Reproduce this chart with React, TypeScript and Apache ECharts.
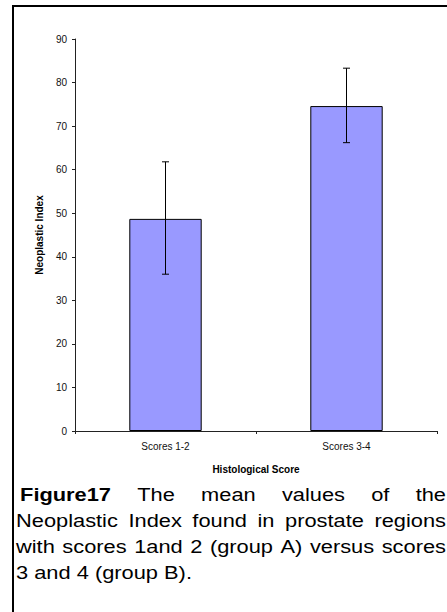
import React, { useEffect, useRef } from "react";
import * as echarts from "echarts";

const categories = ["Scores 1-2", "Scores 3-4"];
const meanValues = [48.7, 74.6];
const errorLow = [36.0, 66.2];
const errorHigh = [61.8, 83.3];
const yTicks = { min: 0, max: 90, interval: 10 };

const captionLines: { words: { t: string; bold?: boolean }[]; justify: boolean }[] = [
  { words: [{ t: "Figure17", bold: true }, { t: "The" }, { t: "mean" }, { t: "values" }, { t: "of" }, { t: "the" }], justify: true },
  { words: [{ t: "Neoplastic" }, { t: "Index" }, { t: "found" }, { t: "in" }, { t: "prostate" }, { t: "regions" }], justify: true },
  { words: [{ t: "with" }, { t: "scores" }, { t: "1and" }, { t: "2" }, { t: "(group" }, { t: "A)" }, { t: "versus" }, { t: "scores" }], justify: true },
  { words: [{ t: "3" }, { t: "and" }, { t: "4" }, { t: "(group" }, { t: "B)." }], justify: false },
];

const FONT_FAMILY = '"Liberation Sans", Arial, Helvetica, sans-serif';

export default function App() {
  const ref = useRef<HTMLDivElement>(null);
  useEffect(() => {
    document.body.style.margin = "0";
    if (!ref.current) return;
    const chart = echarts.init(ref.current, undefined, { renderer: "svg" });

    const capSize = 18.5;
    const scaleX = 1.18;
    const canvas = document.createElement("canvas");
    const ctx = canvas.getContext("2d")!;
    const measure = (t: string, bold?: boolean) => {
      ctx.font = `${bold ? "bold " : ""}${capSize}px ${FONT_FAMILY}`;
      return ctx.measureText(t).width * scaleX;
    };
    const L0 = 14;
    const R0 = 446;
    const lineY = [495, 521, 547, 573];
    const spaceW = measure(" ");
    const graphics: any[] = [
      { type: "rect", shape: { x: 13, y: 5, width: 440, height: 2 }, style: { fill: "#000" } },
      { type: "rect", shape: { x: 12, y: 5, width: 2, height: 620 }, style: { fill: "#000" } },
    ];
    captionLines.forEach((line, li) => {
      const startX = li === 0 ? L0 + spaceW : L0 + 2;
      const widths = line.words.map((w) => measure(w.t, w.bold));
      const total = widths.reduce((a, b) => a + b, 0);
      const gap = line.justify ? (R0 - startX - total) / (line.words.length - 1) : spaceW;
      let x = startX;
      line.words.forEach((w, wi) => {
        graphics.push({
          type: "text",
          x,
          y: lineY[li],
          scaleX,
          style: {
            text: w.t,
            fontSize: capSize,
            fontWeight: w.bold ? "bold" : "normal",
            fontFamily: FONT_FAMILY,
            fill: "#000",
            textAlign: "left",
            textVerticalAlign: "middle",
          },
        });
        x += widths[wi] + gap;
      });
    });

    chart.setOption({
      animation: false,
      grid: { left: 75, right: 10, top: 39, bottom: 181 },
      xAxis: {
        type: "category",
        data: categories,
        name: "Histological Score",
        nameLocation: "middle",
        nameGap: 33,
        nameTextStyle: { fontSize: 10, fontWeight: "bold", color: "#000", fontFamily: FONT_FAMILY },
        axisLine: { lineStyle: { color: "#222", width: 1 } },
        axisTick: { show: true, length: 3, lineStyle: { color: "#222" } },
        axisLabel: { fontSize: 10, color: "#111", margin: 10, fontFamily: FONT_FAMILY },
        splitLine: { show: false },
      },
      yAxis: {
        type: "value",
        min: yTicks.min,
        max: yTicks.max,
        interval: yTicks.interval,
        name: "Neoplastic Index",
        nameLocation: "middle",
        nameGap: 30,
        nameTextStyle: { fontSize: 10, fontWeight: "bold", color: "#000", fontFamily: FONT_FAMILY },
        axisLine: { show: true, lineStyle: { color: "#222", width: 1 } },
        axisTick: { show: true, length: 3, lineStyle: { color: "#222" } },
        axisLabel: { fontSize: 10, color: "#111", margin: 8, fontFamily: FONT_FAMILY },
        splitLine: { show: false },
      },
      series: [
        {
          type: "bar",
          data: meanValues,
          barWidth: "40%",
          itemStyle: { color: "#9999FF", borderColor: "#000", borderWidth: 1 },
        },
        {
          type: "custom",
          data: categories.map((_, i) => [i, errorLow[i], errorHigh[i]]),
          renderItem: (params: any, api: any) => {
            const i = api.value(0);
            const lo = api.coord([i, api.value(1)]);
            const hi = api.coord([i, api.value(2)]);
            const cap = 3.5;
            const st = { stroke: "#000", lineWidth: 1 };
            return {
              type: "group",
              children: [
                { type: "line", shape: { x1: lo[0], y1: lo[1], x2: hi[0], y2: hi[1] }, style: st },
                { type: "line", shape: { x1: lo[0] - cap, y1: lo[1], x2: lo[0] + cap, y2: lo[1] }, style: st },
                { type: "line", shape: { x1: hi[0] - cap, y1: hi[1], x2: hi[0] + cap, y2: hi[1] }, style: st },
              ],
            };
          },
          z: 5,
        },
      ],
      graphic: graphics,
    });
    return () => chart.dispose();
  }, []);
  return <div ref={ref} style={{ width: 447, height: 612 }} />;
}
